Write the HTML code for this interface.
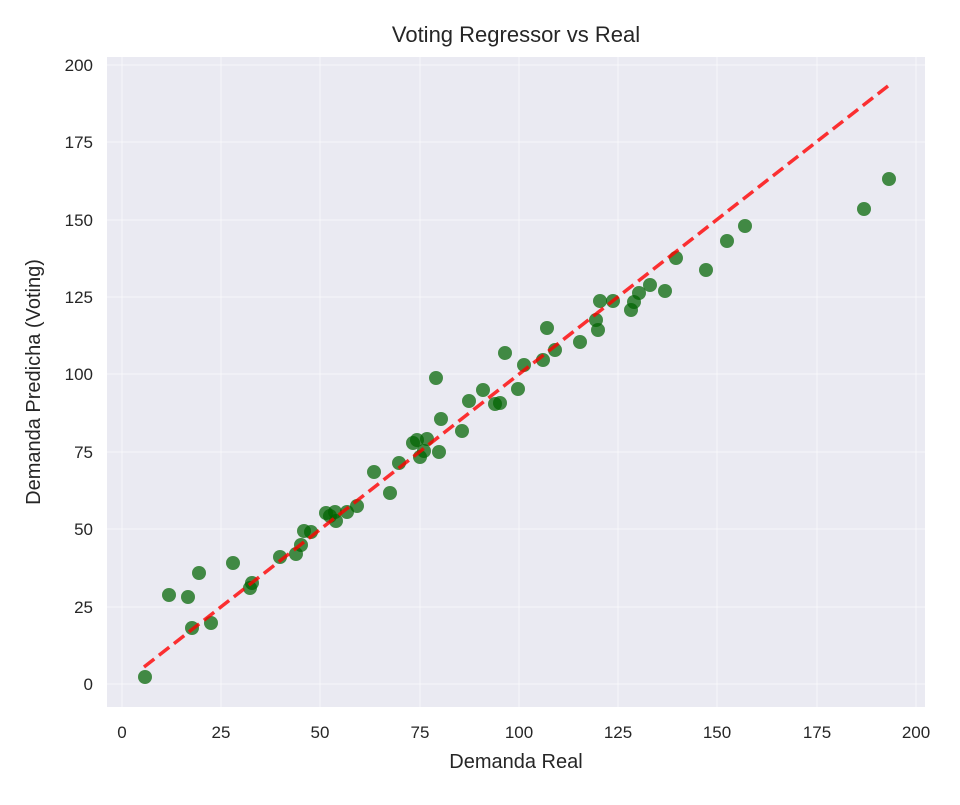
<!DOCTYPE html>
<html><head><meta charset="utf-8"><style>body{margin:0;background:#fff}</style></head>
<body>
<svg width="960" height="800" xmlns="http://www.w3.org/2000/svg" font-family="Liberation Sans, DejaVu Sans, sans-serif" fill="#262626">
<rect x="0" y="0" width="960" height="800" fill="#fff"/>
<rect x="107" y="57" width="818" height="650" fill="#eaeaf2"/>
<g stroke="#fff" stroke-width="1" stroke-opacity="0.5">
<line x1="122" y1="57" x2="122" y2="707"/><line x1="221" y1="57" x2="221" y2="707"/><line x1="320" y1="57" x2="320" y2="707"/><line x1="420" y1="57" x2="420" y2="707"/><line x1="519" y1="57" x2="519" y2="707"/><line x1="618" y1="57" x2="618" y2="707"/><line x1="717" y1="57" x2="717" y2="707"/><line x1="817" y1="57" x2="817" y2="707"/><line x1="916" y1="57" x2="916" y2="707"/>
<line x1="107" y1="684" x2="925" y2="684"/><line x1="107" y1="607" x2="925" y2="607"/><line x1="107" y1="529" x2="925" y2="529"/><line x1="107" y1="452" x2="925" y2="452"/><line x1="107" y1="374" x2="925" y2="374"/><line x1="107" y1="297" x2="925" y2="297"/><line x1="107" y1="220" x2="925" y2="220"/><line x1="107" y1="142" x2="925" y2="142"/><line x1="107" y1="65" x2="925" y2="65"/>
</g>
<g fill="#006400" fill-opacity="0.72">
<circle cx="145" cy="677" r="7"/><circle cx="169" cy="595" r="7"/><circle cx="188" cy="597" r="7"/><circle cx="199" cy="573" r="7"/><circle cx="192" cy="628" r="7"/><circle cx="211" cy="623" r="7"/><circle cx="233" cy="563" r="7"/><circle cx="250" cy="588" r="7"/><circle cx="252" cy="583" r="7"/><circle cx="280" cy="557" r="7"/><circle cx="296" cy="554" r="7"/><circle cx="301" cy="545" r="7"/><circle cx="304" cy="531" r="7"/><circle cx="311" cy="532" r="7"/><circle cx="326" cy="513" r="7"/><circle cx="330" cy="516" r="7"/><circle cx="335" cy="512" r="7"/><circle cx="336" cy="521" r="7"/><circle cx="347" cy="512" r="7"/><circle cx="357" cy="506" r="7"/><circle cx="374" cy="472" r="7"/><circle cx="390" cy="493" r="7"/><circle cx="399" cy="463" r="7"/><circle cx="413" cy="443" r="7"/><circle cx="417" cy="440" r="7"/><circle cx="420" cy="457" r="7"/><circle cx="427" cy="439" r="7"/><circle cx="424" cy="451" r="7"/><circle cx="436" cy="378" r="7"/><circle cx="439" cy="452" r="7"/><circle cx="441" cy="419" r="7"/><circle cx="462" cy="431" r="7"/><circle cx="469" cy="401" r="7"/><circle cx="483" cy="390" r="7"/><circle cx="495" cy="404" r="7"/><circle cx="500" cy="403" r="7"/><circle cx="505" cy="353" r="7"/><circle cx="518" cy="389" r="7"/><circle cx="524" cy="365" r="7"/><circle cx="543" cy="360" r="7"/><circle cx="547" cy="328" r="7"/><circle cx="555" cy="350" r="7"/><circle cx="580" cy="342" r="7"/><circle cx="596" cy="320" r="7"/><circle cx="598" cy="330" r="7"/><circle cx="600" cy="301" r="7"/><circle cx="613" cy="301" r="7"/><circle cx="631" cy="310" r="7"/><circle cx="634" cy="302" r="7"/><circle cx="639" cy="293" r="7"/><circle cx="650" cy="285" r="7"/><circle cx="665" cy="291" r="7"/><circle cx="676" cy="258" r="7"/><circle cx="706" cy="270" r="7"/><circle cx="727" cy="241" r="7"/><circle cx="745" cy="226" r="7"/><circle cx="864" cy="209" r="7"/><circle cx="889" cy="179" r="7"/>
</g>
<line x1="144" y1="667" x2="888" y2="86" stroke="#ff0000" stroke-opacity="0.8" stroke-width="3.5" stroke-dasharray="13,6"/>
<g font-size="17" text-anchor="middle">
<text x="122" y="738">0</text><text x="221" y="738">25</text><text x="320" y="738">50</text><text x="420" y="738">75</text><text x="519" y="738">100</text><text x="618" y="738">125</text><text x="717" y="738">150</text><text x="817" y="738">175</text><text x="916" y="738">200</text>
</g>
<g font-size="17" text-anchor="end">
<text x="93" y="690">0</text><text x="93" y="613">25</text><text x="93" y="535">50</text><text x="93" y="458">75</text><text x="93" y="380">100</text><text x="93" y="303">125</text><text x="93" y="226">150</text><text x="93" y="148">175</text><text x="93" y="71">200</text>
</g>
<text x="516" y="768" font-size="20" text-anchor="middle">Demanda Real</text>
<text x="40" y="382" font-size="20" text-anchor="middle" transform="rotate(-90 40 382)">Demanda Predicha (Voting)</text>
<text x="516" y="42" font-size="22" text-anchor="middle">Voting Regressor vs Real</text>
</svg>
</body></html>
